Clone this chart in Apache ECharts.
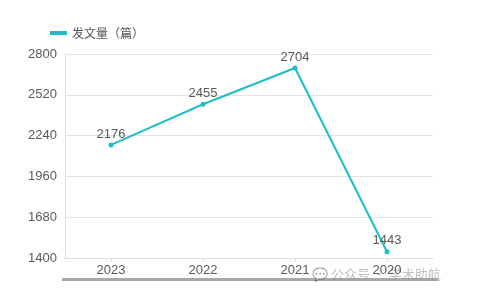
<!DOCTYPE html>
<html><head><meta charset="utf-8">
<script src="https://cdn.jsdelivr.net/npm/echarts@6/dist/echarts.min.js"></script>
<style>html,body{margin:0;padding:0;background:#fff}#c{width:488px;height:307px}</style>
</head><body><div id="c"></div>
<script>
var categories = ['2023', '2022', '2021', '2020'];
var values = [2176, 2455, 2704, 1443];
var seriesName = '发文量（篇）';
var chart = echarts.init(document.getElementById('c'));
chart.setOption({
  animation: false,
  textStyle: { fontFamily: 'Arial, "Liberation Sans", "Noto Sans CJK SC", sans-serif' },
  legend: {
    left: 45, top: 22, itemWidth: 17, itemHeight: 4, itemGap: 5,
    icon: 'rect',
    textStyle: { fontSize: 12, color: '#555', fontFamily: '"Noto Sans CJK SC", sans-serif' },
    data: [seriesName]
  },
  grid: { left: 65, right: 55, top: 54, bottom: 49 },
  xAxis: {
    type: 'category', data: categories, boundaryGap: true,
    axisLine: { show: true, lineStyle: { color: '#ddd' } },
    axisTick: { show: true, alignWithLabel: true, lineStyle: { color: '#ddd' }, length: 4 },
    axisLabel: { color: '#595959', fontSize: 13, margin: 6 }
  },
  yAxis: {
    type: 'value', min: 1400, max: 2800, interval: 280,
    axisLine: { show: true, lineStyle: { color: '#ddd' } },
    axisTick: { show: false },
    splitLine: { lineStyle: { color: '#e3e3e3', width: 1 } },
    axisLabel: { color: '#595959', fontSize: 13, margin: 8, formatter: function (v) { return String(v); } }
  },
  series: [{
    name: seriesName, type: 'line', data: values,
    color: '#1fbcc6',
    symbol: 'circle', symbolSize: 5,
    lineStyle: { width: 2, color: '#1fbcc6' },
    itemStyle: { color: '#1fbcc6' },
    label: { show: true, position: 'top', color: '#595959', fontSize: 13, distance: 2 }
  }],
  graphic: [
    { type: 'rect', left: 62, top: 278, shape: { width: 376, height: 3 }, style: { fill: '#a8a8a8' } },
    { type: 'text', left: 312, top: 268, style: { text: '💬 公众号 · 学术助航', fill: 'rgba(150,150,150,0.6)', font: '13px "Noto Sans CJK SC"' } }
  ]
});
</script></body></html>
